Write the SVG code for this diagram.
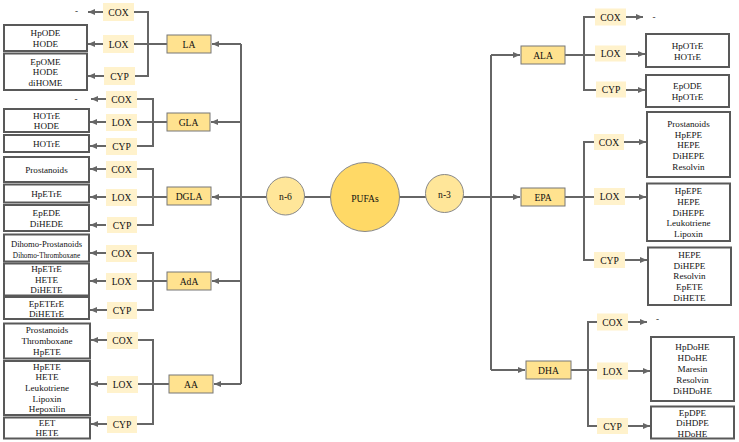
<svg xmlns="http://www.w3.org/2000/svg" width="739" height="442" viewBox="0 0 739 442" font-family="'Liberation Serif', 'Times New Roman', serif">
<style>
.ln{stroke:#666;stroke-width:2;fill:none}
.ar{stroke:#666;stroke-width:2;fill:none;marker-end:url(#ah)}
.fa{fill:#FFE28F;stroke:#777;stroke-width:1}
.en{fill:#FFF2CC;stroke:none}
.pr{fill:#fff;stroke:#595959;stroke-width:2}
text{font-family:'Liberation Serif','Times New Roman',serif;fill:#111;text-anchor:middle;dominant-baseline:central}
.t11{font-size:9.6px}
.t10{font-size:9.1px}
.t9{font-size:8.6px}
.t8{font-size:7.3px}
</style>
<defs>
<marker id="ah" markerUnits="userSpaceOnUse" markerWidth="7" markerHeight="6" refX="7" refY="3" orient="auto">
<path d="M0,0 L7,3 L0,6 z" fill="#666"/>
</marker>
</defs>
<rect width="739" height="442" fill="#fff"/>

<g id="connectors">
<path class="ln" d="M241,197 H267 M304,197 H331 M399,197 H426 M463,197 H491"/>
<path class="ln" d="M241,44 V384"/>
<path class="ar" d="M241,44 H212"/>
<path class="ar" d="M241,122 H211"/>
<path class="ar" d="M241,197 H212"/>
<path class="ar" d="M241,281 H212"/>
<path class="ar" d="M241,384 H214"/>
<path class="ln" d="M491,55 V370"/>
<path class="ar" d="M491,55 H520"/>
<path class="ar" d="M491,197 H520"/>
<path class="ar" d="M491,370 H525"/>
<path class="ln" d="M167,44 H134 M134,12 H148 V76 H135"/>
<path class="ar" d="M103,12 H88"/>
<path class="ar" d="M103,44 H88"/>
<path class="ar" d="M104,76 H88"/>
<path class="ln" d="M167,122 H137 M137,99 H153 V146 H137"/>
<path class="ar" d="M106,99 H91"/>
<path class="ar" d="M106,122 H90"/>
<path class="ar" d="M106,146 H90"/>
<path class="ln" d="M167,197 H137 M137,169 H153 V225 H137"/>
<path class="ar" d="M106,169 H90"/>
<path class="ar" d="M106,197 H90"/>
<path class="ar" d="M106,225 H90"/>
<path class="ln" d="M167,281 H137 M137,253 H153 V310 H137"/>
<path class="ar" d="M106,253 H90"/>
<path class="ar" d="M106,281 H90"/>
<path class="ar" d="M107,310 H90"/>
<path class="ln" d="M169,384 H138 M138,340 H153 V424 H137"/>
<path class="ar" d="M107,340 H91"/>
<path class="ar" d="M107,384 H91"/>
<path class="ar" d="M107,424 H91"/>
<path class="ln" d="M565,55 H595 M595,17 H584 V90 H596"/>
<path class="ar" d="M626,17 H643"/>
<path class="ar" d="M626,54 H645"/>
<path class="ar" d="M626,90 H645"/>
<path class="ln" d="M565,197 H594 M594,142 H584 V260 H594"/>
<path class="ar" d="M624,142 H646"/>
<path class="ar" d="M625,197 H646"/>
<path class="ar" d="M625,260 H647"/>
<path class="ln" d="M571,370 H597 M597,322 H588 V426 H597"/>
<path class="ar" d="M628,322 H647"/>
<path class="ar" d="M628,371 H650"/>
<path class="ar" d="M628,426 H650"/>
</g>

<g id="PUFAs"><circle cx="365" cy="197" r="34.5" fill="#FFD966" stroke="#888" stroke-width="1"/><text class="t11" x="365" y="198">PUFAs</text></g>
<g id="n6"><circle cx="285.5" cy="196" r="19" fill="#FFE699" stroke="#888" stroke-width="1"/><text class="t11" x="285.5" y="196">n-6</text></g>
<g id="n3"><circle cx="444.5" cy="193.5" r="19" fill="#FFE699" stroke="#888" stroke-width="1"/><text class="t11" x="444.5" y="194">n-3</text></g>

<g id="LA"><rect class="fa" x="167" y="35" width="44" height="18"/><text class="t11" x="189" y="44">LA</text></g>
<g id="GLA"><rect class="fa" x="167" y="113" width="43" height="18"/><text class="t11" x="188.5" y="122">GLA</text></g>
<g id="DGLA"><rect class="fa" x="167" y="187" width="44" height="18"/><text class="t11" x="189" y="196">DGLA</text></g>
<g id="AdA"><rect class="fa" x="167" y="272" width="44" height="18"/><text class="t11" x="189" y="281">AdA</text></g>
<g id="AA"><rect class="fa" x="169" y="375" width="44" height="18"/><text class="t11" x="191" y="384">AA</text></g>

<g id="ALA"><rect class="fa" x="521" y="46" width="44" height="18"/><text class="t11" x="543" y="55">ALA</text></g>
<g id="EPA"><rect class="fa" x="521" y="188" width="44" height="18"/><text class="t11" x="543" y="197">EPA</text></g>
<g id="DHA"><rect class="fa" x="526" y="361" width="45" height="18"/><text class="t11" x="548.5" y="370">DHA</text></g>

<g id="LA-COX"><rect class="en" x="103" y="3" width="31" height="18"/><text class="t11" x="118.5" y="12">COX</text></g>
<g id="LA-LOX"><rect class="en" x="103" y="35" width="31" height="18"/><text class="t11" x="118.5" y="44">LOX</text></g>
<g id="LA-CYP"><rect class="en" x="104" y="67" width="31" height="18"/><text class="t11" x="119.5" y="76">CYP</text></g>
<g id="LA-COX-p"><text class="t10" x="76.5" y="11">-</text></g>
<g id="LA-LOX-p"><rect class="pr" x="4" y="25" width="83" height="26"/><text class="t10" x="45.5" y="33.3">HpODE</text><text class="t10" x="45.5" y="44.3">HODE</text></g>
<g id="LA-CYP-p"><rect class="pr" x="4" y="53.5" width="83" height="36.5"/><text class="t10" x="45.5" y="61.5">EpOME</text><text class="t10" x="45.5" y="72.2">HODE</text><text class="t10" x="45.5" y="83">diHOME</text></g>

<g id="GLA-COX"><rect class="en" x="106" y="91" width="31" height="17"/><text class="t11" x="121.5" y="99.5">COX</text></g>
<g id="GLA-LOX"><rect class="en" x="106" y="114" width="31" height="17"/><text class="t11" x="121.5" y="122.5">LOX</text></g>
<g id="GLA-CYP"><rect class="en" x="106" y="138" width="31" height="17"/><text class="t11" x="121.5" y="146.5">CYP</text></g>
<g id="GLA-COX-p"><text class="t10" x="76" y="98.5">-</text></g>
<g id="GLA-LOX-p"><rect class="pr" x="4" y="109" width="85" height="23"/><text class="t10" x="46.5" y="115.5">HOTrE</text><text class="t10" x="46.5" y="126">HODE</text></g>
<g id="GLA-CYP-p"><rect class="pr" x="4" y="135" width="85" height="17"/><text class="t10" x="46.5" y="144">HOTrE</text></g>

<g id="DGLA-COX"><rect class="en" x="106" y="161" width="31" height="17"/><text class="t11" x="121.5" y="169.5">COX</text></g>
<g id="DGLA-LOX"><rect class="en" x="106" y="189" width="31" height="17"/><text class="t11" x="121.5" y="197.5">LOX</text></g>
<g id="DGLA-CYP"><rect class="en" x="107" y="217" width="30" height="16"/><text class="t11" x="122" y="225">CYP</text></g>
<g id="DGLA-COX-p"><rect class="pr" x="4" y="157" width="85" height="25"/><text class="t10" x="46.5" y="170">Prostanoids</text></g>
<g id="DGLA-LOX-p"><rect class="pr" x="4" y="184.5" width="85" height="18"/><text class="t10" x="46.5" y="194">HpETrE</text></g>
<g id="DGLA-CYP-p"><rect class="pr" x="4" y="205" width="85" height="26"/><text class="t10" x="46.5" y="213.3">EpEDE</text><text class="t10" x="46.5" y="224.3">DiHEDE</text></g>

<g id="AdA-COX"><rect class="en" x="106" y="245" width="31" height="17"/><text class="t11" x="121.5" y="253.5">COX</text></g>
<g id="AdA-LOX"><rect class="en" x="106" y="273" width="31" height="17"/><text class="t11" x="121.5" y="281.5">LOX</text></g>
<g id="AdA-CYP"><rect class="en" x="107" y="302" width="30" height="17"/><text class="t11" x="122" y="310.5">CYP</text></g>
<g id="AdA-COX-p"><rect class="pr" x="4" y="234.5" width="85" height="27"/><text class="t9" x="46.5" y="244.3">Dihomo-Prostanoids</text><text class="t8" x="46.5" y="255.3">Dihomo-Thromboxane</text></g>
<g id="AdA-LOX-p"><rect class="pr" x="4" y="263.5" width="85" height="32"/><text class="t10" x="46.5" y="269">HpETrE</text><text class="t10" x="46.5" y="279.5">HETE</text><text class="t10" x="46.5" y="290">DiHETE</text></g>
<g id="AdA-CYP-p"><rect class="pr" x="4" y="297" width="85" height="22"/><text class="t10" x="46.5" y="304">EpETErE</text><text class="t10" x="46.5" y="314">DiHETrE</text></g>

<g id="AA-COX"><rect class="en" x="107" y="332" width="31" height="17"/><text class="t11" x="122.5" y="340.5">COX</text></g>
<g id="AA-LOX"><rect class="en" x="107" y="376" width="31" height="17"/><text class="t11" x="122.5" y="384.5">LOX</text></g>
<g id="AA-CYP"><rect class="en" x="107" y="416" width="30" height="17"/><text class="t11" x="122" y="424.5">CYP</text></g>
<g id="AA-COX-p"><rect class="pr" x="4" y="323.5" width="86" height="35"/><text class="t10" x="47" y="330">Prostanoids</text><text class="t10" x="47" y="341">Thromboxane</text><text class="t10" x="47" y="351.7">HpETE</text></g>
<g id="AA-LOX-p"><rect class="pr" x="4" y="361" width="86" height="54"/><text class="t10" x="47" y="367">HpETE</text><text class="t10" x="47" y="377.3">HETE</text><text class="t10" x="47" y="388">Leukotriene</text><text class="t10" x="47" y="398.7">Lipoxin</text><text class="t10" x="47" y="409.3">Hepoxilin</text></g>
<g id="AA-CYP-p"><rect class="pr" x="4" y="417.5" width="86" height="21"/><text class="t10" x="47" y="422.7">EET</text><text class="t10" x="47" y="433.3">HETE</text></g>

<g id="ALA-COX"><rect class="en" x="595" y="8.5" width="31" height="17"/><text class="t11" x="610.5" y="17">COX</text></g>
<g id="ALA-LOX"><rect class="en" x="595" y="45.5" width="31" height="16"/><text class="t11" x="610.5" y="53.5">LOX</text></g>
<g id="ALA-CYP"><rect class="en" x="596" y="81.5" width="30" height="16"/><text class="t11" x="611" y="89.5">CYP</text></g>
<g id="ALA-COX-p"><text class="t10" x="654" y="16.5">-</text></g>
<g id="ALA-LOX-p"><rect class="pr" x="646" y="34" width="83" height="33"/><text class="t10" x="687.5" y="45.5">HpOTrE</text><text class="t10" x="687.5" y="56.5">HOTrE</text></g>
<g id="ALA-CYP-p"><rect class="pr" x="646" y="75" width="83" height="32"/><text class="t10" x="687.5" y="86">EpODE</text><text class="t10" x="687.5" y="97">HpOTrE</text></g>

<g id="EPA-COX"><rect class="en" x="594" y="134" width="30" height="16"/><text class="t11" x="609" y="142">COX</text></g>
<g id="EPA-LOX"><rect class="en" x="594" y="188" width="31" height="17"/><text class="t11" x="609.5" y="196.5">LOX</text></g>
<g id="EPA-CYP"><rect class="en" x="594" y="252" width="31" height="16"/><text class="t11" x="609.5" y="260">CYP</text></g>
<g id="EPA-COX-p"><rect class="pr" x="647" y="112" width="83" height="65"/><text class="t10" x="688.5" y="124">Prostanoids</text><text class="t10" x="688.5" y="134.7">HpEPE</text><text class="t10" x="688.5" y="145.3">HEPE</text><text class="t10" x="688.5" y="156">DiHEPE</text><text class="t10" x="688.5" y="166.7">Resolvin</text></g>
<g id="EPA-LOX-p"><rect class="pr" x="647" y="183.5" width="83" height="57.5"/><text class="t10" x="688.5" y="191">HpEPE</text><text class="t10" x="688.5" y="201.7">HEPE</text><text class="t10" x="688.5" y="212.5">DiHEPE</text><text class="t10" x="688.5" y="223">Leukotriene</text><text class="t10" x="688.5" y="234">Lipoxin</text></g>
<g id="EPA-CYP-p"><rect class="pr" x="648" y="247.5" width="83" height="57.5"/><text class="t10" x="689.5" y="255">HEPE</text><text class="t10" x="689.5" y="265.7">DiHEPE</text><text class="t10" x="689.5" y="276.3">Resolvin</text><text class="t10" x="689.5" y="287">EpETE</text><text class="t10" x="689.5" y="297.7">DiHETE</text></g>

<g id="DHA-COX"><rect class="en" x="597" y="313.5" width="31" height="17"/><text class="t11" x="612.5" y="322">COX</text></g>
<g id="DHA-LOX"><rect class="en" x="597" y="362.5" width="31" height="17"/><text class="t11" x="612.5" y="371">LOX</text></g>
<g id="DHA-CYP"><rect class="en" x="597" y="418" width="31" height="16"/><text class="t11" x="612.5" y="426">CYP</text></g>
<g id="DHA-COX-p"><text class="t10" x="657.5" y="318.5">-</text></g>
<g id="DHA-LOX-p"><rect class="pr" x="651" y="337" width="83" height="64"/><text class="t10" x="692.5" y="347.3">HpDoHE</text><text class="t10" x="692.5" y="358">HDoHE</text><text class="t10" x="692.5" y="369">Maresin</text><text class="t10" x="692.5" y="379.7">Resolvin</text><text class="t10" x="692.5" y="390.5">DiHDoHE</text></g>
<g id="DHA-CYP-p"><rect class="pr" x="651" y="406.5" width="83" height="32"/><text class="t10" x="692.5" y="412.7">EpDPE</text><text class="t10" x="692.5" y="423">DiHDPE</text><text class="t10" x="692.5" y="433.5">HDoHE</text></g>
</svg>
